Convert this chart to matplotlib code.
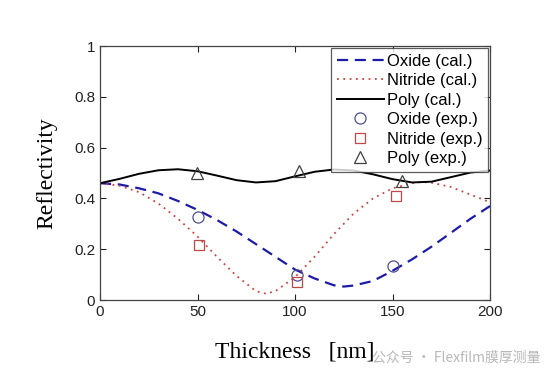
import numpy as np
import matplotlib
matplotlib.use('Agg')
import matplotlib.pyplot as plt

# calculated curves
oxide_x = [0, 10, 20, 30, 40, 50, 60, 70, 80, 90, 100, 110, 120, 125, 130, 140, 150, 160, 170, 180, 190, 200]
oxide_y = [0.46, 0.455, 0.44, 0.42, 0.39, 0.355, 0.315, 0.27, 0.22, 0.17, 0.12, 0.085, 0.058, 0.053, 0.057,
           0.075, 0.115, 0.16, 0.21, 0.265, 0.32, 0.37]

nitride_x = [0, 10, 20, 30, 40, 50, 60, 70, 80, 85, 90, 100, 110, 120, 130, 140, 150, 160, 165, 170, 180, 190, 200]
nitride_y = [0.46, 0.45, 0.425, 0.38, 0.32, 0.25, 0.17, 0.095, 0.035, 0.025, 0.035, 0.09, 0.17, 0.26, 0.34,
             0.40, 0.44, 0.46, 0.465, 0.462, 0.445, 0.415, 0.385]

poly_x = [0, 10, 20, 30, 40, 50, 60, 70, 80, 90, 100, 110, 120, 130, 140, 150, 160, 170, 180, 190, 200]
poly_y = [0.46, 0.477, 0.497, 0.511, 0.515, 0.507, 0.49, 0.472, 0.463, 0.468, 0.487, 0.505, 0.514, 0.51,
          0.495, 0.476, 0.463, 0.466, 0.484, 0.502, 0.51]

# measured points
oxide_exp_x = [50, 101, 150]
oxide_exp_y = [0.327, 0.1, 0.132]
nitride_exp_x = [51, 101, 152]
nitride_exp_y = [0.217, 0.072, 0.41]
poly_exp_x = [49.5, 102, 155]
poly_exp_y = [0.502, 0.507, 0.468]

plt.rcParams['font.family'] = ['Liberation Sans', 'DejaVu Sans']

fig = plt.figure(figsize=(5.54, 3.79), dpi=100)
ax = fig.add_axes([0.1805, 0.2084, 0.704, 0.670])

ax.plot(oxide_x, oxide_y, color='#1c1ca8', linestyle=(0, (5, 3)), linewidth=1.6, label='Oxide (cal.)')
ax.plot(nitride_x, nitride_y, color='#d04040', linestyle=(0, (1, 2.5)), linewidth=1.3, label='Nitride (cal.)')
ax.plot(poly_x, poly_y, color='black', linewidth=1.4, label='Poly (cal.)')
ax.plot(oxide_exp_x, oxide_exp_y, linestyle='none', marker='o', markersize=8, markerfacecolor='none',
        markeredgecolor='#505090', markeredgewidth=0.9, label='Oxide (exp.)')
ax.plot(nitride_exp_x, nitride_exp_y, linestyle='none', marker='s', markersize=7.5, markerfacecolor='none',
        markeredgecolor='#c04848', markeredgewidth=0.9, label='Nitride (exp.)')
ax.plot(poly_exp_x, poly_exp_y, linestyle='none', marker='^', markersize=8, markerfacecolor='none',
        markeredgecolor='#404040', markeredgewidth=0.9, label='Poly (exp.)')

ax.set_xlim(0, 200)
ax.set_ylim(0, 1)
ax.set_xticks([0, 50, 100, 150, 200])
ax.set_yticks([0, 0.2, 0.4, 0.6, 0.8, 1])
ax.set_yticklabels(['0', '0.2', '0.4', '0.6', '0.8', '1'])
ax.tick_params(direction='in', top=True, right=True, labelsize=11, length=4, width=0.8, colors='#222222')
for s in ax.spines.values():
    s.set_color('#444444')
    s.set_linewidth(0.9)

ax.set_xlabel('Thickness   [nm]', family='Liberation Serif', fontsize=17, labelpad=16)
ax.set_ylabel('Reflectivity', family='Liberation Serif', fontsize=17, labelpad=12)

leg = ax.legend(loc='upper right', fontsize=12, frameon=True, fancybox=False, edgecolor='#333333',
                handlelength=2.8, handletextpad=0.2, borderpad=0.35, labelspacing=0.27,
                borderaxespad=0.1)
leg.get_frame().set_linewidth(0.9)

fig.text(0.672, 0.045, '公众号 · Flexfilm膜厚测量', fontsize=10, color='#b8b8b8',
         family=['Noto Sans CJK SC', 'DejaVu Sans'])

fig.savefig('out.png', dpi=100, facecolor='white')
plt.close()
